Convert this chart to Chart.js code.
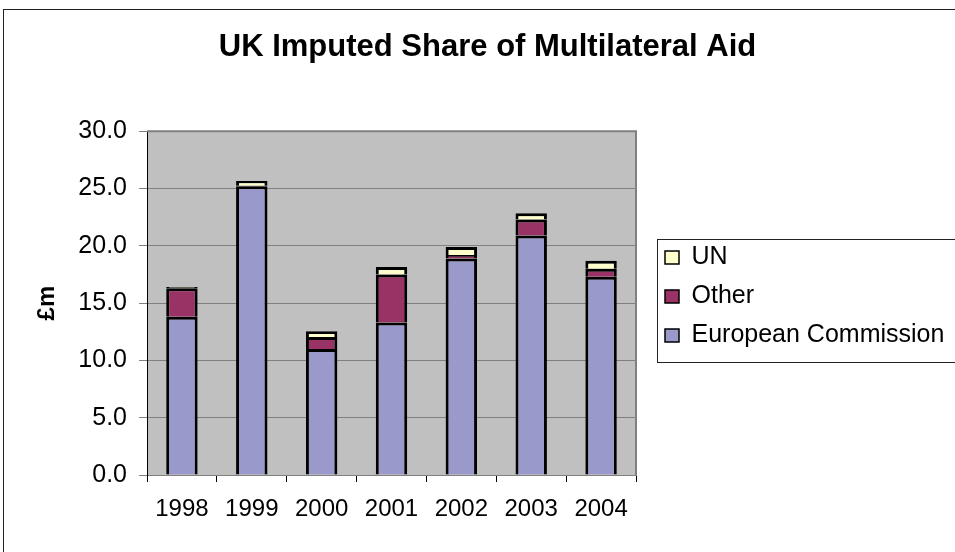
<!DOCTYPE html>
<html><head><meta charset="utf-8">
<script src="https://cdn.jsdelivr.net/npm/chart.js@4"></script>
<style>html,body{margin:0;padding:0;background:#fff}</style>
</head><body>
<canvas id="c" width="955" height="552"></canvas>
<script>
const categories = ['1998', '1999', '2000', '2001', '2002', '2003', '2004'];
const europeanCommission = [13.8, 25.2, 11.0, 13.3, 18.9, 20.9, 17.3];
const other = [2.5, 0.05, 1.05, 4.2, 0.3, 1.4, 0.7];
const un = [0.1, 0.4, 0.5, 0.65, 0.7, 0.55, 0.7];
const yMin = 0, yMax = 30, yStep = 5;

const W = 955, H = 552;
const PLOT = {left: 147, right: 636, top: 131, bottom: 475};

const framePlugin = {
  id: 'frame',
  afterInit(chart) {
    const lg = chart.legend;
    const f = lg.fit;
    lg.fit = function () { f.call(this); this.width = W - PLOT.right; };
  },
  afterLayout(chart) {
    const lg = chart.legend;
    const w = lg.width;
    lg.left = 651; lg.right = lg.left + w;
    lg.top = 231; lg.bottom = 475;
  },
  beforeDraw(chart) {
    const ctx = chart.ctx, a = chart.chartArea;
    ctx.save();
    ctx.fillStyle = '#ffffff';
    ctx.fillRect(0, 0, W, H);
    ctx.strokeStyle = '#222';
    ctx.lineWidth = 1;
    ctx.strokeRect(3.5, 9.5, W + 20, H + 20);
    ctx.fillStyle = '#C0C0C0';
    ctx.fillRect(a.left, a.top, a.right - a.left, a.bottom - a.top);
    ctx.restore();
  },
  beforeDatasetsDraw(chart) {
    const ctx = chart.ctx, a = chart.chartArea;
    ctx.save();
    ctx.strokeStyle = '#808080';
    ctx.lineWidth = 2;
    ctx.beginPath();
    ctx.moveTo(a.left, a.top);
    ctx.lineTo(a.right, a.top);
    ctx.lineTo(a.right, a.bottom);
    ctx.stroke();
    ctx.restore();
  },
  afterDraw(chart) {
    const ctx = chart.ctx;
    ctx.save();
    ctx.strokeStyle = '#222';
    ctx.lineWidth = 1;
    ctx.strokeRect(657.5, 239.5, 400, 123);
    ctx.restore();
  }
};

Chart.defaults.color = '#000';
Chart.defaults.font.family = '"Liberation Sans", Arial, sans-serif';

new Chart(document.getElementById('c'), {
  type: 'bar',
  data: {
    labels: categories,
    datasets: [
      {label: 'European Commission', data: europeanCommission, backgroundColor: '#9999CC'},
      {label: 'Other', data: other, backgroundColor: '#993366'},
      {label: 'UN', data: un, backgroundColor: '#FFFFCC'}
    ]
  },
  options: {
    responsive: false,
    animation: false,
    devicePixelRatio: 1,
    layout: {padding: {left: 20, right: 0, top: 0, bottom: 0}},
    datasets: {bar: {borderColor: '#000', borderWidth: 3, categoryPercentage: 1, barPercentage: 0.45}},
    scales: {
      x: {
        stacked: true,
        offset: true,
        grid: {offset: true, drawOnChartArea: false, drawTicks: true, tickLength: 7, tickColor: '#000', color: '#000'},
        border: {display: true, color: '#808080', width: 1},
        ticks: {font: {size: 24}, padding: 13, color: '#000'},
        afterFit(s) { s.height = H - PLOT.bottom; }
      },
      y: {
        stacked: true,
        min: yMin, max: yMax,
        ticks: {stepSize: yStep, font: {size: 25}, padding: 12, color: '#000', callback: v => Number(v).toFixed(1)},
        grid: {color: '#808080', lineWidth: 1, tickLength: 8, tickColor: '#808080'},
        border: {display: true, color: '#000', width: 1},
        title: {display: true, text: '£m', font: {size: 24, weight: 'bold'}, color: '#000', padding: {top: 13, bottom: 0}},
        afterFit(s) { s.width = PLOT.left - 20; }
      }
    },
    plugins: {
      title: {display: true, text: 'UK Imputed Share of Multilateral Aid', color: '#000', font: {size: 31, weight: 'bold'}, padding: {top: 29, bottom: 65}},
      legend: {
        position: 'right', align: 'start', reverse: true,
        labels: {
          font: {size: 25}, color: '#000', boxWidth: 14, boxHeight: 13, padding: 14,
          generateLabels(chart) {
            const items = Chart.defaults.plugins.legend.labels.generateLabels(chart);
            items.forEach(i => { i.lineWidth = 1.5; i.strokeStyle = '#000'; });
            return items;
          }
        }
      },
      tooltip: {enabled: false}
    }
  },
  plugins: [framePlugin]
});
</script>
</body></html>
